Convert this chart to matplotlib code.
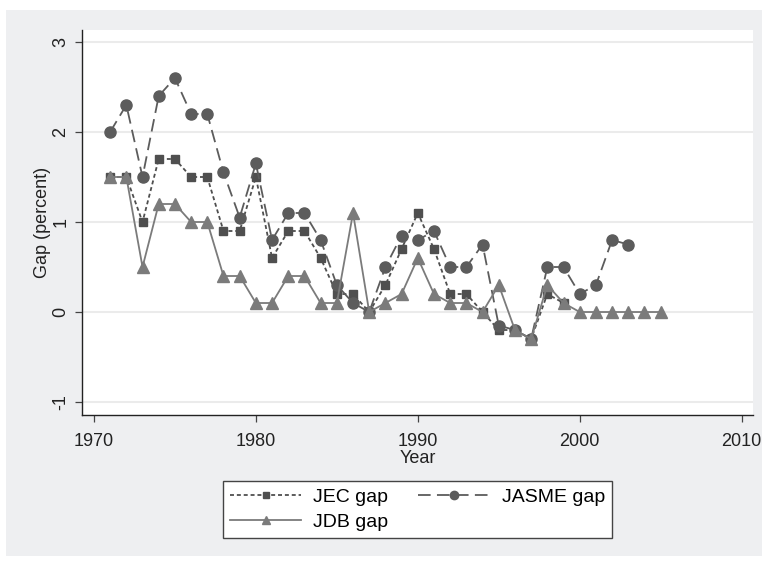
import matplotlib.pyplot as plt
from matplotlib.patches import Rectangle

plt.rcParams['font.family'] = ['Liberation Sans', 'DejaVu Sans']

# values
jec_years = list(range(1971, 2000))
jec_gap = [1.5, 1.5, 1.0, 1.7, 1.7, 1.5, 1.5, 0.9, 0.9, 1.5,
           0.6, 0.9, 0.9, 0.6, 0.2, 0.2, 0.0, 0.3, 0.7, 1.1,
           0.7, 0.2, 0.2, 0.0, -0.2, -0.2, -0.3, 0.2, 0.1]

jasme_years = list(range(1971, 2004))
jasme_gap = [2.0, 2.3, 1.5, 2.4, 2.6, 2.2, 2.2, 1.55, 1.05, 1.65,
             0.8, 1.1, 1.1, 0.8, 0.3, 0.1, 0.0, 0.5, 0.85, 0.8,
             0.9, 0.5, 0.5, 0.75, -0.15, -0.2, -0.3, 0.5, 0.5, 0.2,
             0.3, 0.8, 0.75]

jdb_years = list(range(1971, 2006))
jdb_gap = [1.5, 1.5, 0.5, 1.2, 1.2, 1.0, 1.0, 0.4, 0.4, 0.1,
           0.1, 0.4, 0.4, 0.1, 0.1, 1.1, 0.0, 0.1, 0.2, 0.6,
           0.2, 0.1, 0.1, 0.0, 0.3, -0.2, -0.3, 0.3, 0.1, 0.0,
           0.0, 0.0, 0.0, 0.0, 0.0]

x_ticks = [1970, 1980, 1990, 2000, 2010]
y_ticks = [-1, 0, 1, 2, 3]

fig = plt.figure(figsize=(7.66, 5.63), dpi=100, facecolor='white')
fig.patches.append(Rectangle((0.0078, 0.0124), 0.987, 0.970, transform=fig.transFigure,
                             facecolor='#eeeff1', edgecolor='none', zorder=-10))

ax = fig.add_axes([0.1070, 0.2629, 0.876, 0.6838])
ax.set_facecolor('white')

l_jec, = ax.plot(jec_years, jec_gap, color='#4f4f4f', linestyle=(0, (2.2, 1.6)), linewidth=1.3,
                 marker='s', markersize=5.5, label='JEC gap')
l_jasme, = ax.plot(jasme_years, jasme_gap, color='#5c5c5c', linestyle=(0, (7, 3.5)), linewidth=1.3,
                   marker='o', markersize=8, label='JASME gap')
l_jdb, = ax.plot(jdb_years, jdb_gap, color='#7b7b7b', linestyle='-', linewidth=1.3,
                 marker='^', markersize=8.5, label='JDB gap')

ax.set_xlim(1969.26, 2010.7)
ax.set_ylim(-1.144, 3.133)
ax.set_xticks(x_ticks)
ax.set_yticks(y_ticks)
ax.set_yticklabels([str(v) for v in y_ticks], rotation=90, va='center')
ax.grid(axis='y', color='#ebebeb', linewidth=1.5)
ax.set_axisbelow(True)

for side in ['top', 'right']:
    ax.spines[side].set_visible(False)
for side in ['left', 'bottom']:
    ax.spines[side].set_color('#222222')
    ax.spines[side].set_linewidth(1.0)
ax.tick_params(direction='out', length=5, width=0.9, color='#444444',
               labelsize=13, labelcolor='#222222')
ax.tick_params(axis='x', pad=8)
ax.tick_params(axis='y', pad=4)

ax.set_xlabel('Year', fontsize=13, color='#222222', labelpad=0)
ax.set_ylabel('Gap (percent)', fontsize=13, color='#222222', labelpad=1)

# column-first filling: JEC / JDB in column 1, JASME in column 2
leg = fig.legend([l_jec, l_jdb, l_jasme], ['JEC gap', 'JDB gap', 'JASME gap'],
                 loc='center', bbox_to_anchor=(0.545, 0.095), ncol=2, fontsize=14,
                 handlelength=3.65, numpoints=1, markerscale=0.75, fancybox=False, framealpha=1,
                 edgecolor='#444444', borderpad=0.38, columnspacing=1.55,
                 handletextpad=0.62, labelspacing=0.39)
leg.get_frame().set_linewidth(1.0)

fig.savefig('out.png', dpi=100, facecolor=fig.get_facecolor())
